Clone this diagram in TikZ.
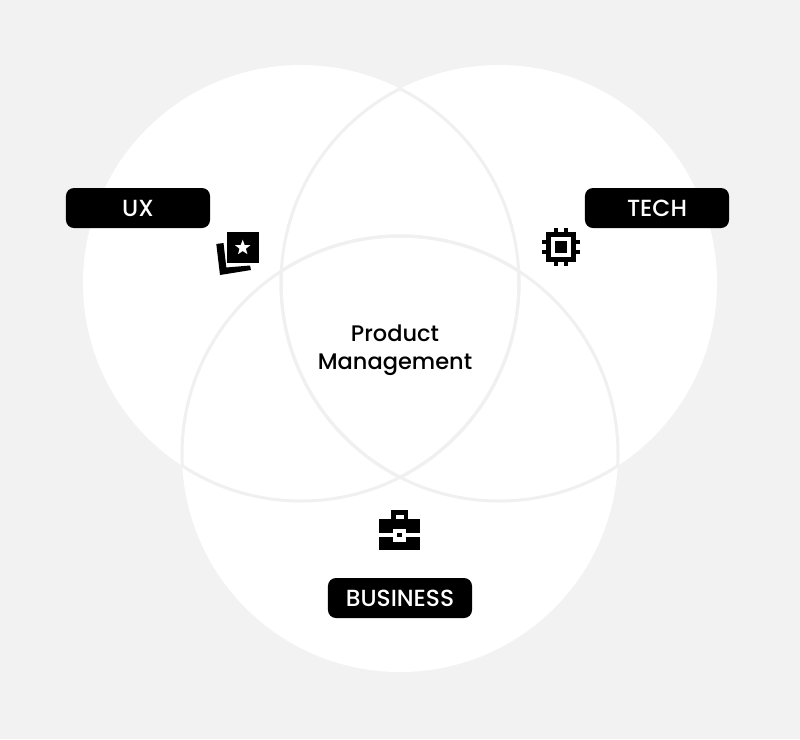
\documentclass[tikz,border=0pt]{standalone}
\usepackage{fontspec}
\setmainfont{Poppins Medium}
\usepackage{xcolor}
\definecolor{pmbg}{RGB}{242,242,242}
\definecolor{pmring}{RGB}{240,240,240}
\usetikzlibrary{arrows.meta,positioning,shapes.geometric,calc}
\tikzset{
  ringfill/.style={circle, fill=white, minimum size=0.025cm*436, inner sep=0pt},
  ringline/.style={circle, draw=pmring, line width=0.075cm, minimum size=0.025cm*436, inner sep=0pt},
  tagbox/.style={fill=black, rounded corners=0.2cm, minimum width=3.6cm, minimum height=1cm, inner sep=0pt, align=center, text height=11.6pt, text depth=0pt, font=\fontsize{16.6}{16.6}\selectfont, text=white},
  iconpart/.style={fill=black},
  iconhole/.style={fill=white}
}
\begin{document}
\begin{tikzpicture}[x=0.025cm,y=-0.025cm]
  \fill[pmbg] (0,0) rectangle (800,739);
  \useasboundingbox (0,0) rectangle (800,739);

  %% Circles
  \node[ringfill] (uxfill)  at (301,283) {};
  \node[ringfill] (techfill) at (499,283) {};
  \node[ringfill] (bizfill) at (400,454) {};
  %% Outlines show only inside a neighbouring circle
  \foreach \ringname/\clipname in {ux/tech,ux/biz,tech/ux,tech/biz,biz/ux,biz/tech} {
    \begin{scope}
      \clip (\clipname fill.center) circle (218);
      \node[ringline] (\ringname ring\clipname) at (\ringname fill.center) {};
    \end{scope}
  }

  %% Labels
  \node[tagbox] (uxtag)   at (138,208) {UX};
  \node[tagbox] (techtag) at (657,208) {TECH};
  \node[tagbox] (biztag)  at (400,598) {BUSINESS};
  \node[align=center, font=\fontsize{16}{20.2}\selectfont, text=black] (pmlabel) at (395,350) {Product\\Management};

  %% UX icon
  \fill[iconpart] (227.3,232.3) rectangle (258.7,263.3);
  \node[star, star points=5, star point ratio=2.4, iconhole, minimum size=0.4cm, inner sep=0pt] (uxstar) at (242.7,247.7) {};
  \fill[iconpart] (216.3,244) -- (223.5,243) -- (226.3,267.5) -- (250,265.5) -- (251,270) -- (220,275) -- cycle;

  %% Tech icon
  \fill[iconpart] (546,232) rectangle (576,262);
  \fill[iconhole] (551,237) rectangle (571,257);
  \fill[iconpart] (555,241) rectangle (567,253);
  \foreach \pinpos in {-5,5} {
    \fill[iconpart] (561+\pinpos-2.3,228) rectangle (561+\pinpos+2.3,232);
    \fill[iconpart] (561+\pinpos-2.3,262) rectangle (561+\pinpos+2.3,266);
    \fill[iconpart] (542,247+\pinpos-2.3) rectangle (546,247+\pinpos+2.3);
    \fill[iconpart] (576,247+\pinpos-2.3) rectangle (580,247+\pinpos+2.3);
  }

  %% Business icon
  \fill[iconpart] (391,510) rectangle (408.3,520);
  \fill[iconhole] (395.7,515) rectangle (404.3,520);
  \fill[iconpart] (379,519) rectangle (420,549.5);
  \fill[iconhole] (379,533.3) rectangle (420,536.7);
  \fill[iconhole] (393.3,529) rectangle (405.7,541.7);
  \fill[iconpart] (397.3,533.3) rectangle (401.7,537.3);
\end{tikzpicture}
\end{document}
